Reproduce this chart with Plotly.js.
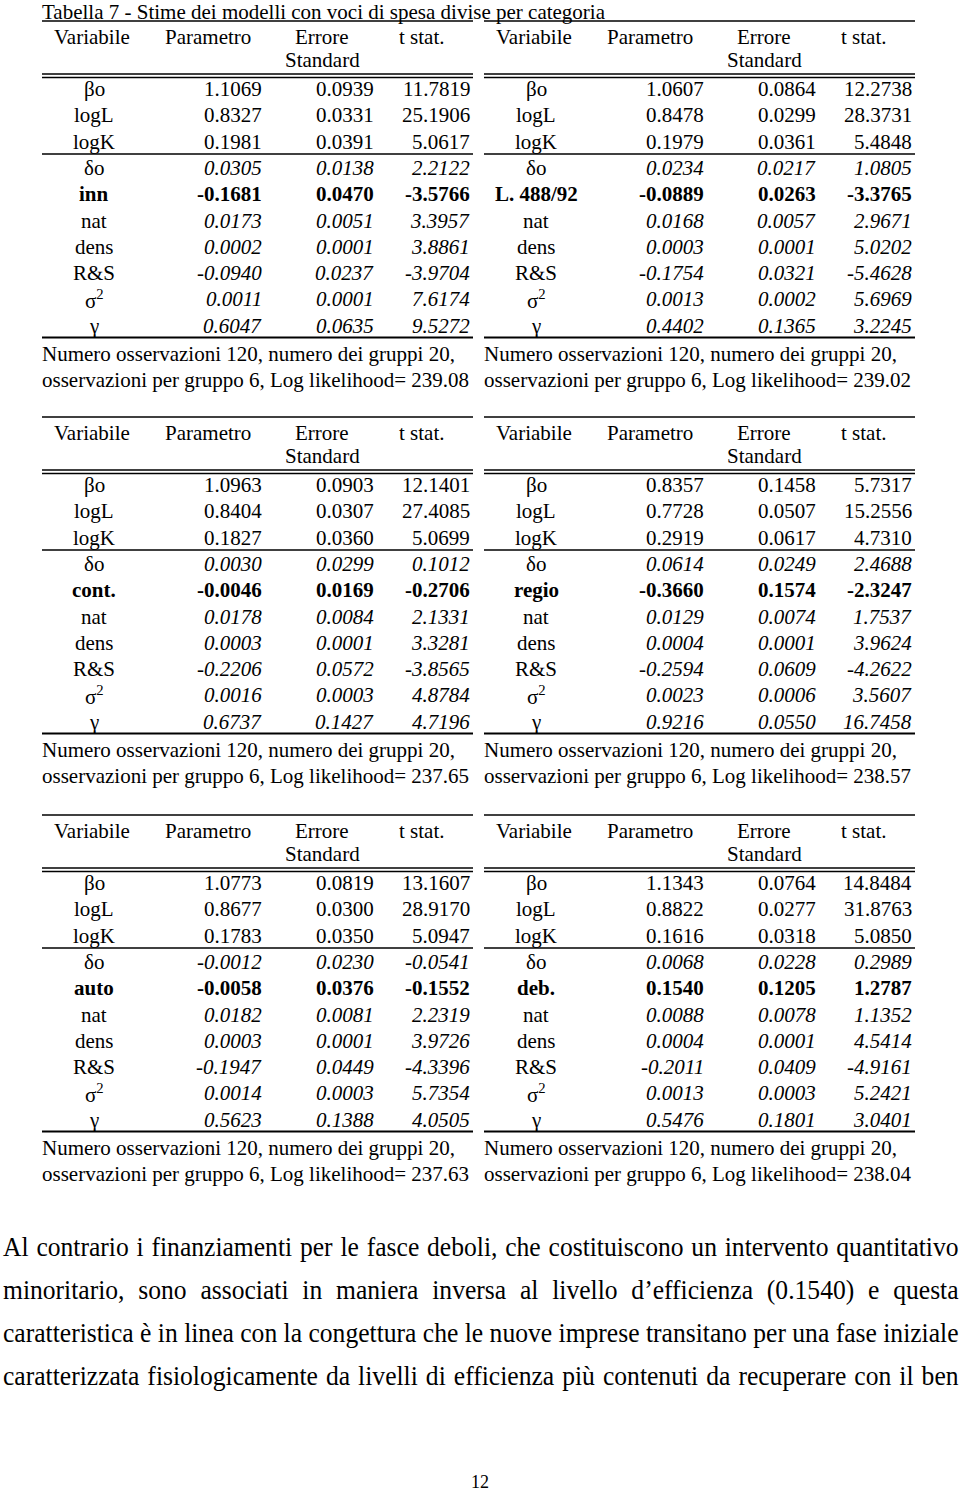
<!DOCTYPE html>
<html>
<head>
<meta charset="utf-8">
<script src="https://cdn.plot.ly/plotly-3.0.1.min.js"></script>
<style>html,body{margin:0;padding:0;background:#fff;}#chart{width:960px;height:1495px;}</style>
</head>
<body>
<div id="chart"></div>
<script>
// ---------------- DATA ----------------
const title = "Tabella 7 - Stime dei modelli con voci di spesa divise per categoria";
const headers = ["Variabile", "Parametro", "Errore", "Standard", "t stat."];
const baseLabels = ["βo", "logL", "logK", "δo", null, "nat", "dens", "R&S", "σ<sup>2</sup>", "γ"];

const innPar = [1.1069, 0.8327, 0.1981, 0.0305, -0.1681, 0.0173, 0.0002, -0.0940, 0.0011, 0.6047];
const innErr = [0.0939, 0.0331, 0.0391, 0.0138, 0.0470, 0.0051, 0.0001, 0.0237, 0.0001, 0.0635];
const innT   = [11.7819, 25.1906, 5.0617, 2.2122, -3.5766, 3.3957, 3.8861, -3.9704, 7.6174, 9.5272];

const legPar = [1.0607, 0.8478, 0.1979, 0.0234, -0.0889, 0.0168, 0.0003, -0.1754, 0.0013, 0.4402];
const legErr = [0.0864, 0.0299, 0.0361, 0.0217, 0.0263, 0.0057, 0.0001, 0.0321, 0.0002, 0.1365];
const legT   = [12.2738, 28.3731, 5.4848, 1.0805, -3.3765, 2.9671, 5.0202, -5.4628, 5.6969, 3.2245];

const contPar = [1.0963, 0.8404, 0.1827, 0.0030, -0.0046, 0.0178, 0.0003, -0.2206, 0.0016, 0.6737];
const contErr = [0.0903, 0.0307, 0.0360, 0.0299, 0.0169, 0.0084, 0.0001, 0.0572, 0.0003, 0.1427];
const contT   = [12.1401, 27.4085, 5.0699, 0.1012, -0.2706, 2.1331, 3.3281, -3.8565, 4.8784, 4.7196];

const regioPar = [0.8357, 0.7728, 0.2919, 0.0614, -0.3660, 0.0129, 0.0004, -0.2594, 0.0023, 0.9216];
const regioErr = [0.1458, 0.0507, 0.0617, 0.0249, 0.1574, 0.0074, 0.0001, 0.0609, 0.0006, 0.0550];
const regioT   = [5.7317, 15.2556, 4.7310, 2.4688, -2.3247, 1.7537, 3.9624, -4.2622, 3.5607, 16.7458];

const autoPar = [1.0773, 0.8677, 0.1783, -0.0012, -0.0058, 0.0182, 0.0003, -0.1947, 0.0014, 0.5623];
const autoErr = [0.0819, 0.0300, 0.0350, 0.0230, 0.0376, 0.0081, 0.0001, 0.0449, 0.0003, 0.1388];
const autoT   = [13.1607, 28.9170, 5.0947, -0.0541, -0.1552, 2.2319, 3.9726, -4.3396, 5.7354, 4.0505];

const debPar = [1.1343, 0.8822, 0.1616, 0.0068, 0.1540, 0.0088, 0.0004, -0.2011, 0.0013, 0.5476];
const debErr = [0.0764, 0.0277, 0.0318, 0.0228, 0.1205, 0.0078, 0.0001, 0.0409, 0.0003, 0.1801];
const debT   = [14.8484, 31.8763, 5.0850, 0.2989, 1.2787, 1.1352, 4.5414, -4.9161, 5.2421, 3.0401];

const specialNames = ["inn", "L. 488/92", "cont.", "regio", "auto", "deb."];
const logLik = ["239.08", "239.02", "237.65", "238.57", "237.63", "238.04"];
const footer1 = "Numero osservazioni 120, numero dei gruppi 20,";
const footer2 = "osservazioni per gruppo 6, Log likelihood= ";

const paragraph = [
  "Al contrario i finanziamenti per le fasce deboli, che costituiscono un intervento quantitativo",
  "minoritario, sono associati in maniera inversa al livello d’efficienza (0.1540) e questa",
  "caratteristica è in linea con la congettura che le nuove imprese transitano per una fase iniziale",
  "caratterizzata fisiologicamente da livelli di efficienza più contenuti da recuperare con il ben"
];
const pageNumber = "12";

// ---------------- LAYOUT ----------------
const FONT = "Liberation Serif, Times New Roman, serif";
const FS = 21;
const ann = [];
const shapes = [];

function txt(x, y, text, xanchor, size) {
  ann.push({x: x, y: y, xref: 'x', yref: 'y', text: text, showarrow: false,
    xanchor: xanchor, yanchor: 'middle', align: xanchor === 'right' ? 'right' : (xanchor === 'left' ? 'left' : 'center'),
    font: {family: FONT, size: size || FS, color: '#000'}});
}
function hline(x0, x1, y, w) {
  shapes.push({type: 'line', xref: 'x', yref: 'y', x0: x0, x1: x1, y0: y, y1: y,
    line: {color: '#000', width: w}});
}

// paragraph first (indices 0..3)
const paraY = [1247, 1290, 1333, 1376];
paragraph.forEach((line, i) => {
  ann.push({x: 1, y: paraY[i], xref: 'x', yref: 'y', text: line, showarrow: false,
    xanchor: 'left', yanchor: 'middle', align: 'left',
    font: {family: FONT, size: 27, color: '#000'}});
});

const tables = [
  {par: innPar, err: innErr, t: innT},
  {par: legPar, err: legErr, t: legT},
  {par: contPar, err: contErr, t: contT},
  {par: regioPar, err: regioErr, t: regioT},
  {par: autoPar, err: autoErr, t: autoT},
  {par: debPar, err: debErr, t: debT}
];
const lefts = [42, 484];
const tops = [21, 417, 815];
const rowStep = 26.3;

function fmt(v) { return v.toFixed(4); }

tables.forEach((tb, k) => {
  const L = lefts[k % 2];
  const T = tops[Math.floor(k / 2)];
  const lineEnd = L + 431;
  hline(L, lineEnd, T, 1.6);
  hline(L, lineEnd, T + 53, 1.6);
  hline(L, lineEnd, T + 56.5, 1.6);
  hline(L, lineEnd, T + 133, 1.3);
  hline(L, lineEnd, T + 316.5, 1.8);
  txt(L + 50, T + 16, headers[0], 'center');
  txt(L + 166, T + 16, headers[1], 'center');
  txt(L + 280, T + 16, headers[2], 'center');
  txt(L + 280, T + 39, headers[3], 'center');
  txt(L + 380, T + 16, headers[4], 'center');
  for (let i = 0; i < 10; i++) {
    const y = T + 68 + i * rowStep;
    let label = baseLabels[i] === null ? specialNames[k] : baseLabels[i];
    let wrap = s => s;
    if (i === 4) wrap = s => '<b>' + s + '</b>';
    else if (i === 3 || i >= 5) wrap = s => '<i>' + s + '</i>';
    txt(L + 52, y, i === 4 ? '<b>' + label + '</b>' : label, 'center');
    txt(L + 222, y, wrap(fmt(tb.par[i])), 'right');
    txt(L + 334, y, wrap(fmt(tb.err[i])), 'right');
    txt(L + 430, y, wrap(fmt(tb.t[i])), 'right');
  }
  txt(L - 2, T + 333, footer1, 'left');
  txt(L - 2, T + 359, footer2 + logLik[k], 'left');
});

txt(40, 12, title, 'left', 21);
txt(480, 1482, pageNumber, 'center', 18);

const layout = {
  width: 960, height: 1495,
  margin: {l: 0, r: 0, t: 0, b: 0, pad: 0},
  paper_bgcolor: '#fff', plot_bgcolor: '#fff',
  showlegend: false,
  xaxis: {range: [0, 960], visible: false, fixedrange: true},
  yaxis: {range: [1495, 0], visible: false, fixedrange: true},
  annotations: ann,
  shapes: shapes
};

Plotly.newPlot('chart', [{x: [], y: [], type: 'scatter', mode: 'markers', hoverinfo: 'skip'}], layout,
  {staticPlot: true, displayModeBar: false}).then(gd => {
  // justify paragraph lines across the page width (condensed like the source)
  const W = 956;
  const els = [];
  for (let i = 0; i < paragraph.length; i++) {
    const g = gd.querySelector('.annotation[data-index="' + i + '"] text.annotation-text');
    if (g) els.push(g);
  }
  if (!els.length) return;
  const widths = els.map(e => e.getComputedTextLength());
  const k = Math.min(1, W / Math.max(...widths));
  els.forEach((e, i) => {
    const n = (paragraph[i].match(/ /g) || []).length;
    const ws = (W / k - widths[i]) / n;
    e.style.wordSpacing = ws + 'px';
    const x0 = parseFloat(e.getAttribute('x')) || 0;
    e.setAttribute('transform', 'translate(' + (x0 * (1 - k)) + ',0) scale(' + k + ',1)');
  });
});
</script>
</body>
</html>
